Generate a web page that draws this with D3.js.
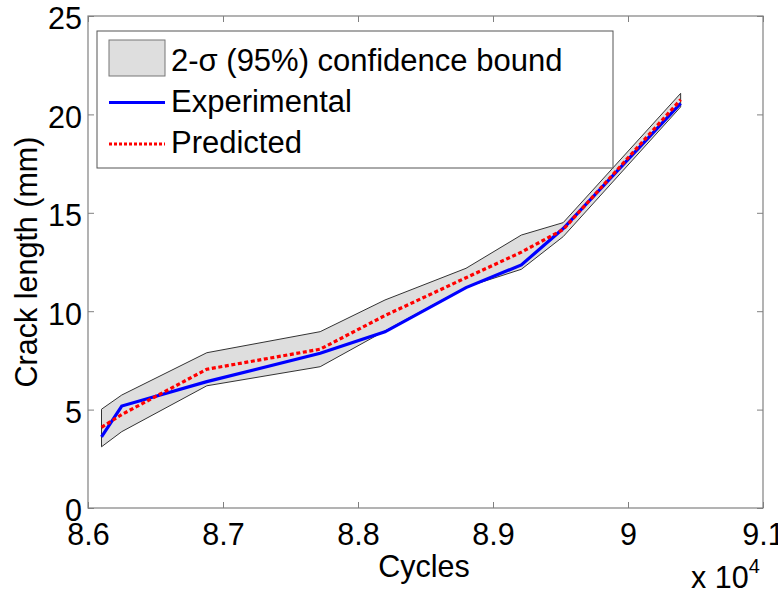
<!DOCTYPE html>
<html><head><meta charset="utf-8">
<script src="https://cdn.jsdelivr.net/npm/d3@7"></script>
<style>body{margin:0;background:#fff}svg{display:block}text{font-family:"Liberation Sans",Arial,sans-serif;fill:#000}</style>
</head><body>
<svg id="c" width="778" height="594"></svg>
<script>
const cycles = [86100, 86250, 86880, 87720, 88200, 88800, 89210, 89520, 90390];
const experimental = [3.62, 5.18, 6.42, 7.86, 8.95, 11.2, 12.35, 14.2, 20.56];
const predicted = [4.1, 4.75, 7.05, 8.07, 9.78, 11.7, 13.0, 14.15, 20.75];
const upperBound = [5.02, 5.74, 7.89, 8.96, 10.57, 12.18, 13.87, 14.5, 21.07];
const lowerBound = [3.11, 3.88, 6.21, 7.18, 9.0, 11.22, 12.13, 13.79, 20.38];
const xTicks = [8.6, 8.7, 8.8, 8.9, 9, 9.1];
const yTicks = [0, 5, 10, 15, 20, 25];
const legendLabels = ["2-\u03c3 (95%) confidence bound", "Experimental", "Predicted"];

const svg = d3.select("#c");
const L = 88, R = 763, T = 16, B = 508;
const x = d3.scaleLinear().domain([86000, 91000]).range([L, R]);
const y = d3.scaleLinear().domain([0, 25]).range([B, T]);
const fs = 30.5;

const idx = d3.range(cycles.length);
const area = d3.area().x(i => x(cycles[i])).y0(i => y(lowerBound[i])).y1(i => y(upperBound[i]));
svg.append("path").attr("d", area(idx)).attr("fill", "#dedede").attr("stroke", "none");
const ln = (arr) => d3.line().x(i => x(cycles[i])).y(i => y(arr[i]))(idx);
svg.append("path").attr("d", ln(upperBound)).attr("fill", "none").attr("stroke", "#333").attr("stroke-width", 1);
svg.append("path").attr("d", ln(lowerBound)).attr("fill", "none").attr("stroke", "#333").attr("stroke-width", 1);
svg.append("line").attr("x1", x(cycles[0])).attr("x2", x(cycles[0])).attr("y1", y(lowerBound[0])).attr("y2", y(upperBound[0])).attr("stroke", "#333");
svg.append("line").attr("x1", x(cycles[8])).attr("x2", x(cycles[8])).attr("y1", y(lowerBound[8])).attr("y2", y(upperBound[8])).attr("stroke", "#333");

svg.append("path").attr("d", ln(experimental)).attr("fill", "none").attr("stroke", "#0000ff").attr("stroke-width", 3.2);
svg.append("path").attr("d", ln(predicted)).attr("fill", "none").attr("stroke", "#ff0000").attr("stroke-width", 3.2).attr("stroke-dasharray", "4,2.6");

const axC = "#808080";
svg.append("rect").attr("x", L).attr("y", T).attr("width", R - L).attr("height", B - T).attr("fill", "none").attr("stroke", axC).attr("stroke-width", 1.2);
const xs = d3.scaleLinear().domain([8.6, 9.1]).range([L, R]);
const xAx = d3.axisBottom(xs).tickValues(xTicks).tickSizeInner(-6).tickSizeOuter(0).tickFormat(d => d3.format("")(d)).tickPadding(0);
const gx = svg.append("g").attr("transform", `translate(0,${B})`).call(xAx);
gx.select(".domain").remove();
gx.selectAll("line").attr("stroke", axC);
gx.selectAll("text").attr("font-size", fs).attr("font-family", "Liberation Sans, Arial, sans-serif").attr("dy", null).attr("y", 37);
const gxt = svg.append("g").attr("transform", `translate(0,${T})`).call(d3.axisTop(xs).tickValues(xTicks).tickSizeInner(-6).tickSizeOuter(0).tickFormat(""));
gxt.select(".domain").remove(); gxt.selectAll("line").attr("stroke", axC);

const yAx = d3.axisLeft(y).tickValues(yTicks).tickSizeInner(-6).tickSizeOuter(0).tickPadding(6);
const gy = svg.append("g").attr("transform", `translate(${L},0)`).call(yAx);
gy.select(".domain").remove();
gy.selectAll("line").attr("stroke", axC);
gy.selectAll("text").attr("font-size", fs).attr("font-family", "Liberation Sans, Arial, sans-serif").attr("dy", "0.42em");
const gyr = svg.append("g").attr("transform", `translate(${R},0)`).call(d3.axisRight(y).tickValues(yTicks).tickSizeInner(-6).tickSizeOuter(0).tickFormat(""));
gyr.select(".domain").remove(); gyr.selectAll("line").attr("stroke", axC);

svg.append("text").attr("x", 424).attr("y", 577).attr("text-anchor", "middle").attr("font-size", fs).text("Cycles");
const ex = svg.append("text").attr("x", 691).attr("y", 588).attr("font-size", fs);
ex.append("tspan").text("x 10");
ex.append("tspan").attr("font-size", 20).attr("dy", -15).text("4");
svg.append("text").attr("transform", "translate(37,262) rotate(-90)").attr("text-anchor", "middle").attr("font-size", fs).text("Crack length (mm)");

const lg = svg.append("g");
lg.append("rect").attr("x", 97).attr("y", 31).attr("width", 516).attr("height", 137).attr("fill", "#fff").attr("stroke", "#555").attr("stroke-width", 1);
lg.append("rect").attr("x", 109).attr("y", 40).attr("width", 56).attr("height", 36).attr("fill", "#dedede").attr("stroke", "#777").attr("stroke-width", 1);
lg.append("line").attr("x1", 109).attr("x2", 165).attr("y1", 102.5).attr("y2", 102.5).attr("stroke", "#0000ff").attr("stroke-width", 3);
lg.append("line").attr("x1", 109).attr("x2", 165).attr("y1", 144).attr("y2", 144).attr("stroke", "#ff0000").attr("stroke-width", 3).attr("stroke-dasharray", "3,2");
const ly = [71, 112, 153];
legendLabels.forEach((t, i) => lg.append("text").attr("x", 171).attr("y", ly[i]).attr("font-size", 31).text(t));
</script>
</body></html>
